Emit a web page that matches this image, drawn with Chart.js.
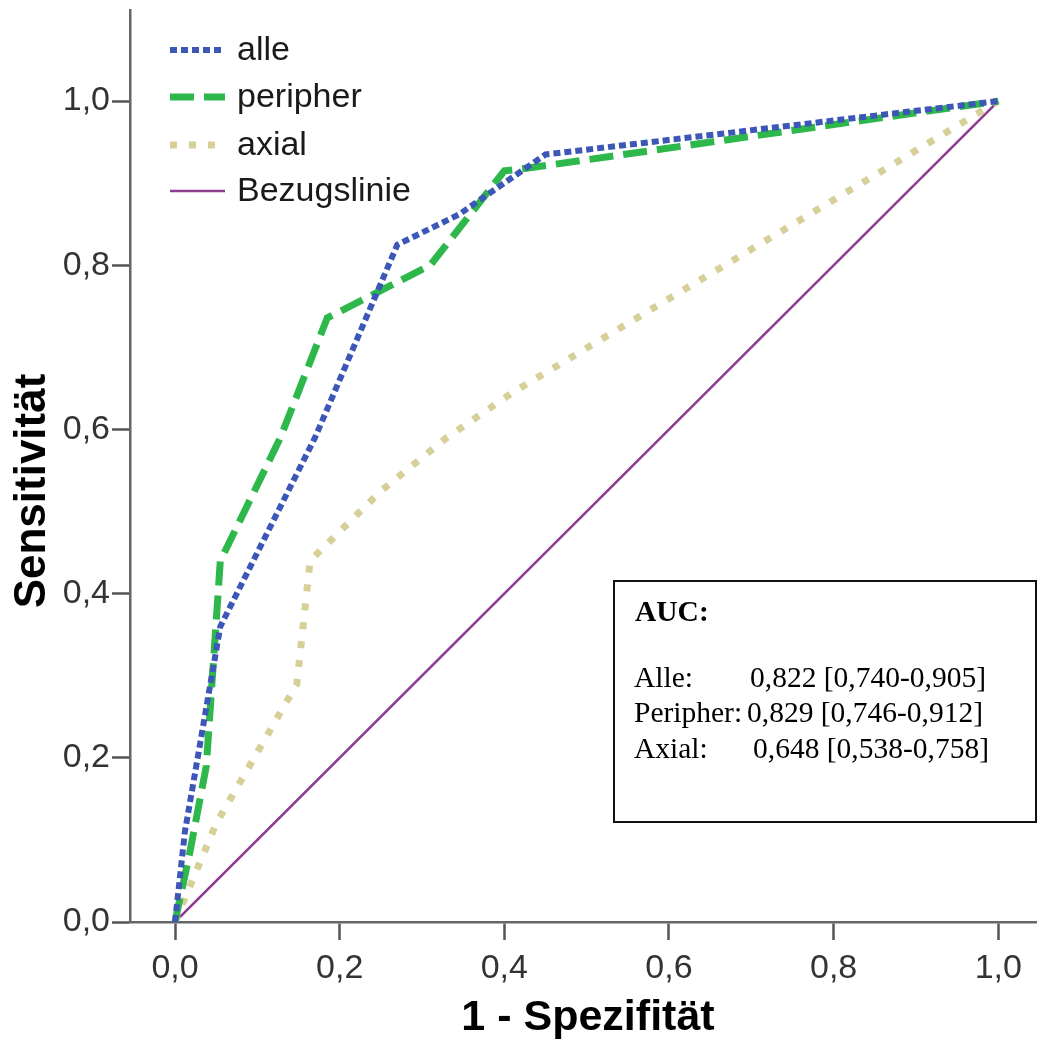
<!DOCTYPE html>
<html>
<head>
<meta charset="utf-8">
<script src="https://cdn.jsdelivr.net/npm/chart.js@4.4.1/dist/chart.umd.min.js"></script>
<style>
    body { margin: 0; background: #fff; }
    #roc { display: block; }
</style>
</head>
<body>
<canvas id="roc" width="1037" height="1046"></canvas>
<script>
// ROC curves, values
const alleX = [0, 0.012, 0.055, 0.17, 0.27, 0.345, 0.45, 1];
const alleY = [0, 0.11, 0.36, 0.59, 0.825, 0.862, 0.935, 1];

const peripherX = [0, 0.018, 0.038, 0.055, 0.128, 0.185, 0.31, 0.40, 0.44, 1];
const peripherY = [0, 0.085, 0.19, 0.44, 0.59, 0.736, 0.80, 0.915, 0.92, 1];

const axialX = [0, 0.05, 0.148, 0.164, 0.25, 0.33, 0.41, 1];
const axialY = [0, 0.12, 0.29, 0.44, 0.525, 0.59, 0.645, 1];

const refX = [0, 1];
const refY = [0, 1];

const seriesNames = ['alle', 'peripher', 'axial', 'Bezugslinie'];
const xTicks = [0, 0.2, 0.4, 0.6, 0.8, 1.0];
const yTicks = [0, 0.2, 0.4, 0.6, 0.8, 1.0];

const aucTitle = 'AUC:';
const aucLabels = ['Alle:', 'Peripher:', 'Axial:'];
const aucValues = ['0,822 [0,740-0,905]', '0,829 [0,746-0,912]', '0,648 [0,538-0,758]'];

const toPoints = (xs, ys) => xs.map((x, i) => ({ x, y: ys[i] }));
const commaFmt = v => v.toFixed(1).replace('.', ',');

const SANS = '"Liberation Sans", Arial, sans-serif';
const SERIF = '"Liberation Serif", "Times New Roman", serif';

// legend drawn inside the plot, top left
const legendPlugin = {
    id: 'insideLegend',
    afterDatasetsDraw(chart) {
        const ctx = chart.ctx;
        const rows = [50, 97, 145, 191];
        ctx.save();
        chart.data.datasets.forEach((ds, i) => {
            ctx.beginPath();
            ctx.setLineDash(ds.borderDash || []);
            ctx.lineWidth = ds.borderWidth;
            ctx.strokeStyle = ds.borderColor;
            ctx.lineCap = 'butt';
            ctx.moveTo(170, rows[i]);
            ctx.lineTo(225, rows[i]);
            ctx.stroke();
            ctx.setLineDash([]);
            ctx.fillStyle = '#1a1a1a';
            ctx.font = '34px ' + SANS;
            ctx.textBaseline = 'middle';
            ctx.textAlign = 'left';
            ctx.fillText(ds.label, 237, rows[i] + 1);
        });
        ctx.restore();
    }
};

// axis titles, SPSS puts the y title a bit below the middle
const titlesPlugin = {
    id: 'axisTitles',
    afterDraw(chart) {
        const ctx = chart.ctx;
        ctx.save();
        ctx.fillStyle = '#000';
        ctx.textAlign = 'center';
        ctx.textBaseline = 'middle';
        ctx.font = 'bold 43px ' + SANS;
        ctx.fillText('1 - Spezifität', 588, 1018);
        ctx.translate(33, 491);
        ctx.rotate(-Math.PI / 2);
        ctx.font = 'bold 44px ' + SANS;
        ctx.fillText('Sensitivität', 0, 0);
        ctx.restore();
    }
};

// AUC text box
const aucPlugin = {
    id: 'aucBox',
    afterDraw(chart) {
        const ctx = chart.ctx;
        ctx.save();
        ctx.fillStyle = '#fff';
        ctx.fillRect(613, 581, 424, 241);
        ctx.strokeStyle = '#111';
        ctx.lineWidth = 2;
        ctx.strokeRect(614, 581, 422, 241);
        ctx.fillStyle = '#000';
        ctx.textBaseline = 'alphabetic';
        ctx.textAlign = 'left';
        ctx.font = 'bold 29.5px ' + SERIF;
        ctx.fillText(aucTitle, 635, 621);
        ctx.font = '29.5px ' + SERIF;
        const baselines = [687, 722, 758];
        const valueX = [750, 747, 753];
        aucLabels.forEach((lbl, i) => {
            ctx.fillText(lbl, 634, baselines[i]);
            ctx.fillText(aucValues[i], valueX[i], baselines[i]);
        });
        ctx.restore();
    }
};

new Chart(document.getElementById('roc').getContext('2d'), {
    type: 'line',
    data: {
        datasets: [
            {
                label: seriesNames[0],
                data: toPoints(alleX, alleY),
                borderColor: '#3c57b8',
                borderWidth: 6,
                borderDash: [7, 4]
            },
            {
                label: seriesNames[1],
                data: toPoints(peripherX, peripherY),
                borderColor: '#2eb84c',
                borderWidth: 7,
                borderDash: [24, 10]
            },
            {
                label: seriesNames[2],
                data: toPoints(axialX, axialY),
                borderColor: '#d6cf98',
                borderWidth: 7,
                borderDash: [7, 12]
            },
            {
                label: seriesNames[3],
                data: toPoints(refX, refY),
                borderColor: '#8e3c92',
                borderWidth: 2.5
            }
        ]
    },
    options: {
        responsive: false,
        animation: false,
        devicePixelRatio: 1,
        layout: { padding: { top: 10, right: 0, left: 0, bottom: 0 } },
        elements: {
            point: { radius: 0, hoverRadius: 0 },
            line: { tension: 0, fill: false, borderCapStyle: 'butt', borderJoinStyle: 'miter' }
        },
        plugins: {
            legend: { display: false },
            tooltip: { enabled: false }
        },
        scales: {
            x: {
                type: 'linear',
                min: -0.0547,
                max: 1.047,
                afterBuildTicks: axis => { axis.ticks = xTicks.map(v => ({ value: v })); },
                afterFit: axis => { axis.height = 124; axis.paddingRight = 0; },
                border: { display: true, color: '#666', width: 2.5 },
                grid: { display: true, drawOnChartArea: false, drawTicks: true, tickLength: 18, tickWidth: 2.5, tickColor: '#555' },
                ticks: {
                    callback: v => commaFmt(v),
                    color: '#333',
                    font: { family: SANS, size: 34 },
                    padding: 8,
                    maxRotation: 0,
                    autoSkip: false
                }
            },
            y: {
                type: 'linear',
                min: 0,
                max: 1.111,
                afterBuildTicks: axis => { axis.ticks = yTicks.map(v => ({ value: v })); },
                afterFit: axis => { axis.width = 130; axis.paddingTop = 0; axis.paddingBottom = 0; },
                border: { display: true, color: '#666', width: 2.5 },
                grid: { display: true, drawOnChartArea: false, drawTicks: true, tickLength: 18, tickWidth: 2.5, tickColor: '#555' },
                ticks: {
                    callback: v => commaFmt(v),
                    color: '#333',
                    font: { family: SANS, size: 34 },
                    padding: 2,
                    autoSkip: false
                }
            }
        }
    },
    plugins: [legendPlugin, titlesPlugin, aucPlugin]
});
</script>
</body>
</html>
